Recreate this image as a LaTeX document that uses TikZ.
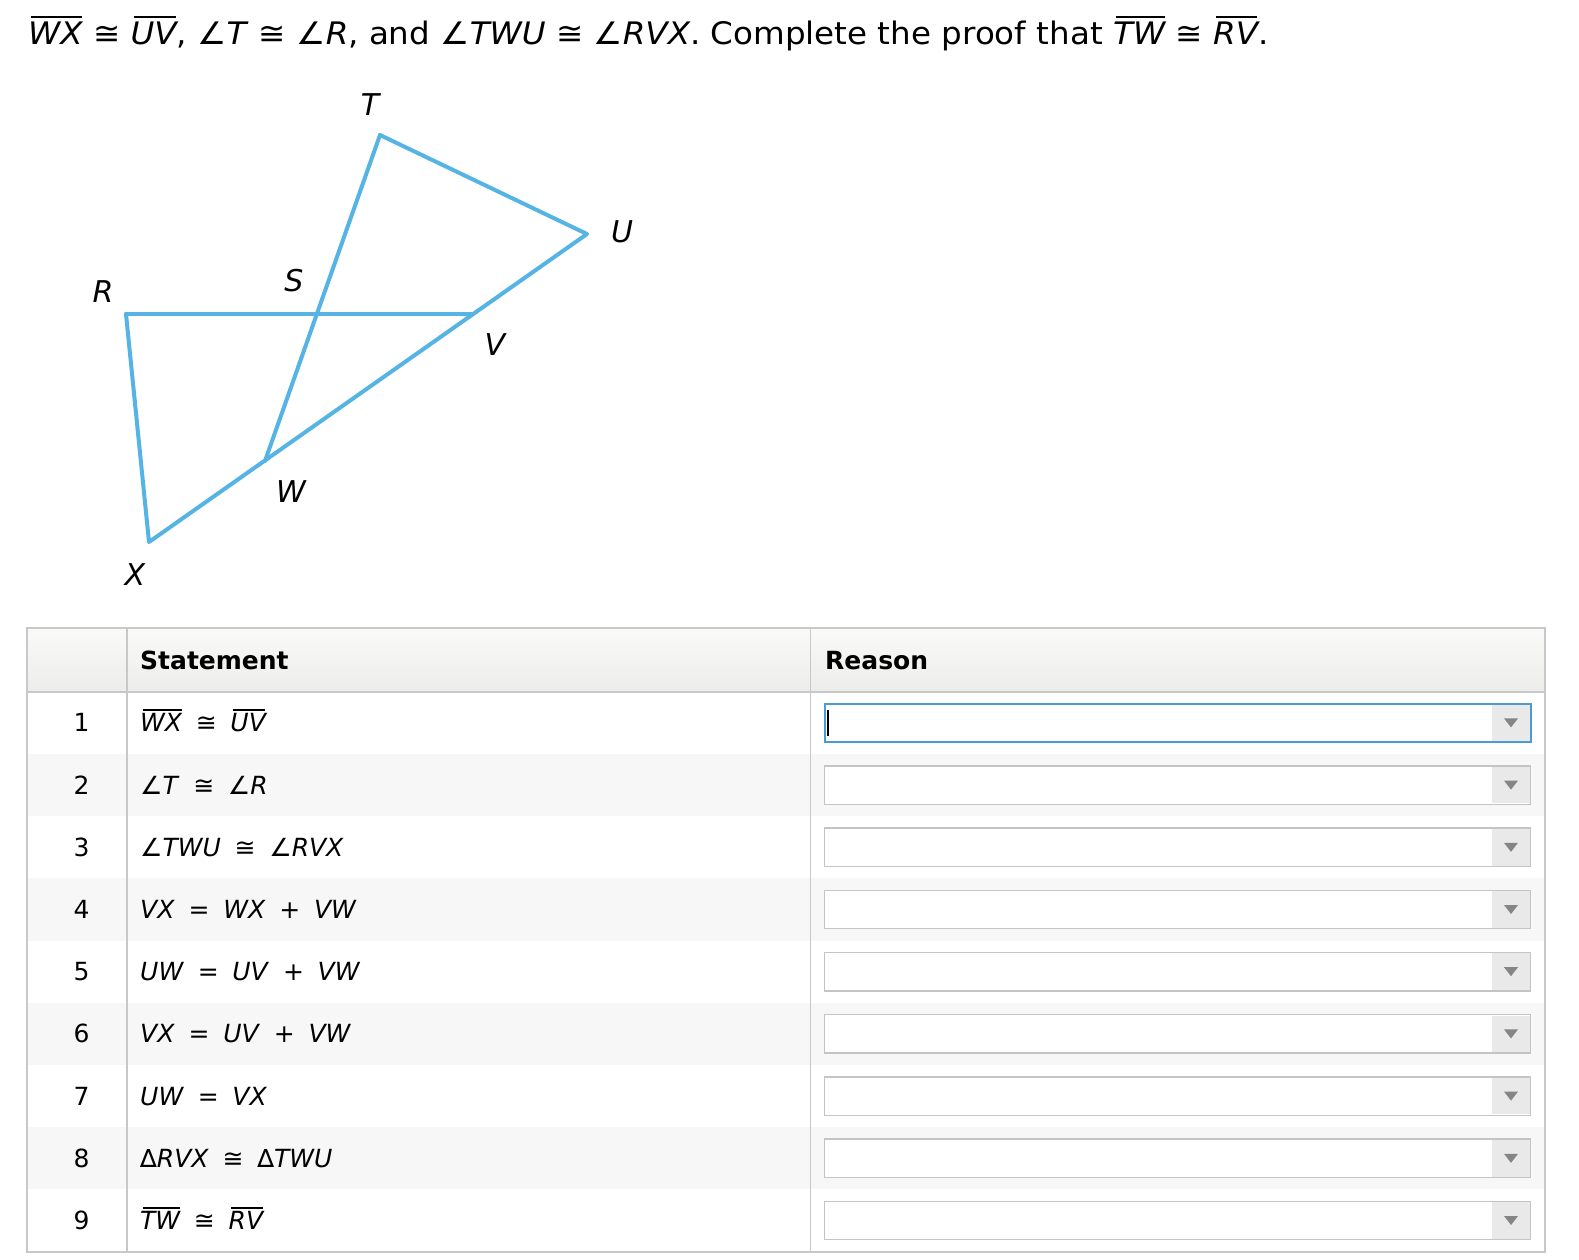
\documentclass[tikz,border=0pt]{standalone}
\usepackage{fontspec}
\setmainfont{DejaVu Sans}
\definecolor{geoblue}{HTML}{55B4E4}
\definecolor{bordergray}{HTML}{C8C8C8}
\definecolor{rowgray}{HTML}{F7F7F7}
\definecolor{hdtop}{HTML}{FAFAF8}
\definecolor{hdbot}{HTML}{ECECEA}
\definecolor{focusblue}{HTML}{4A9BD5}
\definecolor{boxgray}{HTML}{C4C4C4}
\definecolor{arrowbg}{HTML}{E9E9E9}
\definecolor{arrowfg}{HTML}{858585}
\newcommand\seg[1]{{\setbox0\hbox{\itshape #1}\leavevmode\rlap{\kern0.1em\raisebox{0.84em}{\rule{\dimexpr\wd0-0.12em\relax}{0.07em}}}\box0}}
\newcommand\gap{\hspace{0.55em}}
\begin{document}
\begin{tikzpicture}[x=1pt,y=-1pt,
  geo/.style={draw=geoblue, line width=4pt, line join=round, line cap=round},
  lbl/.style={inner sep=0, font=\fontsize{30}{36}\selectfont\itshape},
  celltext/.style={anchor=base west, inner sep=0, font=\fontsize{25}{30}\selectfont},
  numtext/.style={anchor=base, inner sep=0, font=\fontsize{25}{30}\selectfont},
  headtext/.style={anchor=base west, inner sep=0, font=\fontsize{25}{30}\selectfont\bfseries},
  dropbox/.style={draw=boxgray, line width=1.5pt, fill=white}]
\useasboundingbox[fill=white] (0,0) rectangle (1579,1259);

% title
\node[anchor=base west, inner sep=0, font=\fontsize{31}{37}\selectfont] (title) at (28,44.5)
 {\scalebox{1.05}[1]{\seg{WX} ≅ \seg{UV}, ∠\textit{T} ≅ ∠\textit{R}, and ∠\textit{TWU} ≅ ∠\textit{RVX}. Complete the proof that \seg{TW} ≅ \seg{RV}.}};

% figure
\coordinate (T) at (380,135);
\coordinate (U) at (587,234);
\coordinate (R) at (126,314);
\coordinate (V) at (472,314);
\coordinate (W) at (265,461);
\coordinate (X) at (149,542);
\draw[geo] (R) -- (V);
\draw[geo] (T) -- (W);
\draw[geo] (T) -- (U) -- (X) -- (R);
\node[lbl] (lT) at (370,105) {T};
\node[lbl] (lU) at (622,232) {U};
\node[lbl] (lR) at (103,292) {R};
\node[lbl] (lS) at (294,281) {S};
\node[lbl] (lV) at (495,345) {V};
\node[lbl] (lW) at (291,492) {W};
\node[lbl] (lX) at (135,575) {X};

% table
\shade[top color=hdtop, bottom color=hdbot] (27.2,628.4) rectangle (1544.7,691.8);
\foreach \i in {2,4,6,8} {
  \fill[rowgray] (27.2,{691.8+62.2*(\i-1)}) rectangle (1544.7,{691.8+62.2*\i});
}
\draw[bordergray, line width=1.5pt] (27.2,691.8) -- (1544.7,691.8);
\draw[bordergray, line width=1.5pt] (126.9,628.4) -- (126.9,1251.7);
\draw[bordergray, line width=1.5pt] (810.6,628.4) -- (810.6,1251.7);
\draw[bordergray, line width=2pt] (27.2,628.4) rectangle (1544.7,1251.7);

\node[headtext] (hS) at (140,669) {Statement};
\node[headtext] (hR) at (825,669) {Reason};

\foreach \i in {1,...,9} {
  \pgfmathsetmacro{\c}{691.8+62.2*(\i-0.5)}
  \node[numtext] (n\i) at (81.5,\c+9) {\i};
  \ifnum\i=1
    \draw[draw=focusblue, line width=1.8pt, fill=white] (824.7,\c-19.2) rectangle (1530.6,\c+19.2);
  \else
    \draw[dropbox] (824.7,\c-19.2) rectangle (1530.6,\c+19.2);
  \fi
  \fill[arrowbg] (1492,\c-18.3) rectangle (1529.7,\c+18.3);
  \fill[arrowfg] (1504,\c-4.5) -- (1518,\c-4.5) -- (1511,\c+4.5) -- cycle;
}
\draw[line width=1.4pt] (828,710) -- (828,736);

\node[celltext] (s1) at (140,731.9) {\seg{WX}\gap≅\gap\seg{UV}};
\node[celltext] (s2) at (140,794.1) {∠\textit{T}\gap≅\gap∠\textit{R}};
\node[celltext] (s3) at (140,856.3) {∠\textit{TWU}\gap≅\gap∠\textit{RVX}};
\node[celltext] (s4) at (140,918.5) {\textit{VX}\gap=\gap\textit{WX}\gap+\gap\textit{VW}};
\node[celltext] (s5) at (140,980.7) {\textit{UW}\gap=\gap\textit{UV}\gap+\gap\textit{VW}};
\node[celltext] (s6) at (140,1042.9) {\textit{VX}\gap=\gap\textit{UV}\gap+\gap\textit{VW}};
\node[celltext] (s7) at (140,1105.1) {\textit{UW}\gap=\gap\textit{VX}};
\node[celltext] (s8) at (140,1167.3) {∆\textit{RVX}\gap≅\gap∆\textit{TWU}};
\node[celltext] (s9) at (140,1229.5) {\seg{TW}\gap≅\gap\seg{RV}};
\end{tikzpicture}
\end{document}
